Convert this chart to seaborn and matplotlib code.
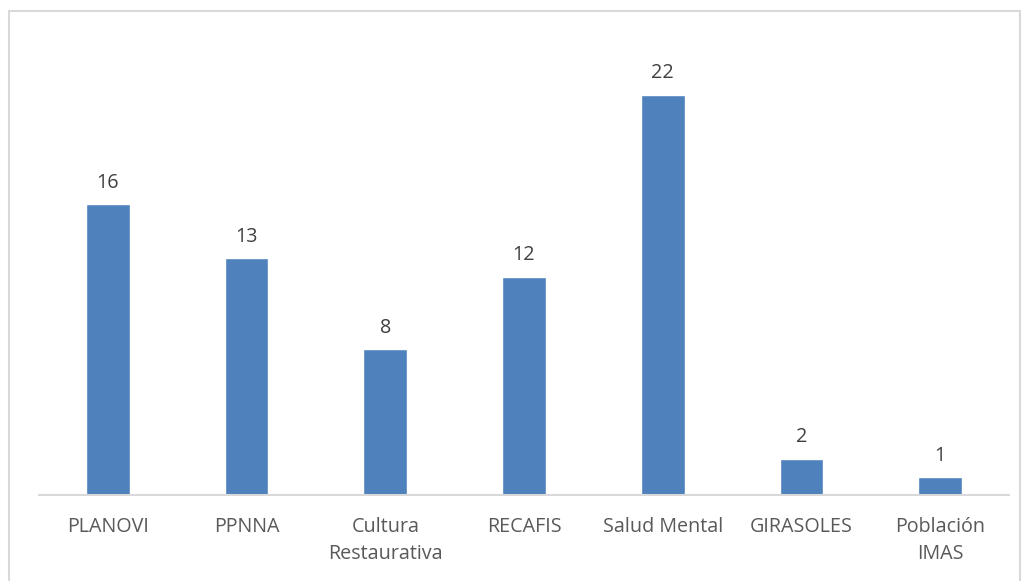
import matplotlib
matplotlib.use("Agg")
import matplotlib.pyplot as plt
import seaborn as sns
import pandas as pd
from matplotlib.patches import Rectangle

categories = ["PLANOVI", "PPNNA", "Cultura\nRestaurativa", "RECAFIS", "Salud Mental", "GIRASOLES", "Población\nIMAS"]
values = [16, 13, 8, 12, 22, 2, 1]

sns.set_theme(style="white")
plt.rcParams['font.family'] = ['Open Sans', 'DejaVu Sans']

W, H = 1024, 581
fig = plt.figure(figsize=(W / 100, H / 100), dpi=100)
ax = fig.add_axes([38.5 / W, 1 - 495 / H, (1009.5 - 38.5) / W, (495 - 40) / H])

df = pd.DataFrame({"cat": categories, "val": values})
sns.barplot(data=df, x="cat", y="val", color="#4F81BD", saturation=1, width=0.315, ax=ax)

ax.set_ylim(0, 25)
ax.set_xlim(-0.5, len(categories) - 0.5)
ax.set_xlabel("")
ax.set_ylabel("")
ax.set_yticks([])
for s in ["top", "right", "left"]:
    ax.spines[s].set_visible(False)
ax.spines["bottom"].set_color("#D9D9D9")
ax.spines["bottom"].set_linewidth(1.5)
ax.tick_params(axis="x", length=0, pad=16, labelsize=14.2, labelcolor="#595959")
for lbl in ax.get_xticklabels():
    lbl.set_linespacing(1.42)

for c in ax.containers:
    ax.bar_label(c, labels=[str(v) for v in values], padding=8, fontsize=14.2, color="#404040")

fig.patches.append(Rectangle((9 / W, -0.05), (1020 - 9) / W, 1.05 - 11 / H,
                             transform=fig.transFigure, fill=False,
                             edgecolor="#D9D9D9", linewidth=1.5, clip_on=False))

fig.savefig("out.png", dpi=100)
